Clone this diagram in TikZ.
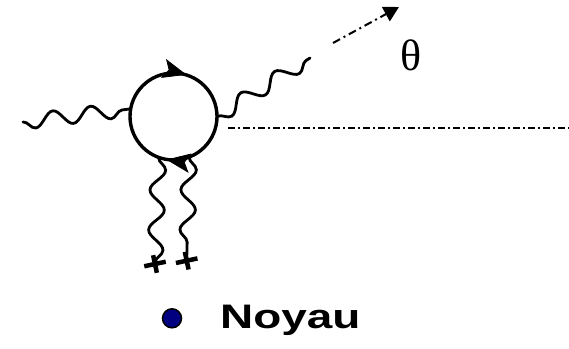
\documentclass[tikz,border=0pt]{standalone}
\usepackage{fontspec}
\usepackage{graphicx}
\setmainfont{Liberation Serif}
\newfontfamily\arialfont{Liberation Sans}
\usetikzlibrary{decorations.pathmorphing,arrows.meta}
\definecolor{navydot}{RGB}{0,0,128}
\begin{document}
\begin{tikzpicture}[x=1pt,y=1pt,
  photon/.style={line width=2.8pt, line cap=round, decorate,
    decoration={snake, segment length=#1, amplitude=7.5pt}},
  photon/.default=38pt,
  photonm/.style={line width=2.8pt, line cap=round, decorate,
    decoration={snake, segment length=#1, amplitude=7.5pt, mirror}},
  photonm/.default=38pt,
  loopline/.style={line width=3.4pt},
  headfill/.style={fill=black, draw=black, line width=0.8pt, line join=miter},
  dashdot/.style={line width=2pt, dash pattern=on 8pt off 4pt on 2pt off 4pt},
  dashdotline/.style={line width=2pt, dash pattern=on 7pt off 3pt on 2pt off 3pt},
  crossline/.style={line width=4.5pt},
]
\useasboundingbox (0,0) rectangle (569,348);

% fermion loop
\node[circle, minimum size=87pt, inner sep=0pt] (loop) at (173.5,231.5) {};
\draw[loopline] (loop.center) circle[radius=43.5pt];
% arrowheads (clockwise flow)
\fill[headfill, shift={(loop.74.7)}, rotate=-15.3]
  (0,0) -- (-22,9) -- (-17,0) -- (-22,-9) -- cycle;
\fill[headfill, shift={(loop.-98.6)}, rotate=171.4]
  (0,0) -- (-22,9) -- (-17,0) -- (-22,-9) -- cycle;

% incoming photon
\coordinate (L0) at (23,226);
\draw[photonm=38pt] (L0) -- (loop.170);

% outgoing photon
\coordinate (R1) at (310,290);
\draw[photonm=40pt] (loop.east) -- (R1);

% emission direction arrow
\coordinate (A0) at (333,305);
\coordinate (A1) at (399,341);
\draw[dashdot, -{Triangle[length=15pt,width=16pt]}] (A0) -- (A1);

% beam axis
\coordinate (H0) at (228,219.7);
\coordinate (H1) at (569,219.7);
\draw[dashdotline] (H0) -- (H1);

% angle label
\node[inner sep=0pt, font=\fontsize{44}{44}\selectfont] (theta) at (411,293) {θ};

% nucleus photons and crosses
\coordinate (X1) at (155,84);
\coordinate (X2) at (186.7,87.3);
\draw[photon=40pt] (loop.-110) -- (X1);
\draw[photon=40pt] (loop.-69) -- (X2);
\begin{scope}[shift={(X1)}, rotate=12]
  \draw[crossline] (-11,0) -- (11,0) (0,-9) -- (0,9);
\end{scope}
\begin{scope}[shift={(X2)}, rotate=12]
  \draw[crossline] (-11,0) -- (11,0) (0,-9) -- (0,9);
\end{scope}

% legend
\node[circle, draw=black, fill=navydot, line width=1.5pt, minimum size=19pt, inner sep=0pt] (dot) at (172,29.7) {};
\node[anchor=base west, inner sep=0pt, font=\arialfont\bfseries\fontsize{34}{34}\selectfont] (noyau) at (220,20) {\scalebox{1.35}[1]{Noyau}};
\end{tikzpicture}
\end{document}
